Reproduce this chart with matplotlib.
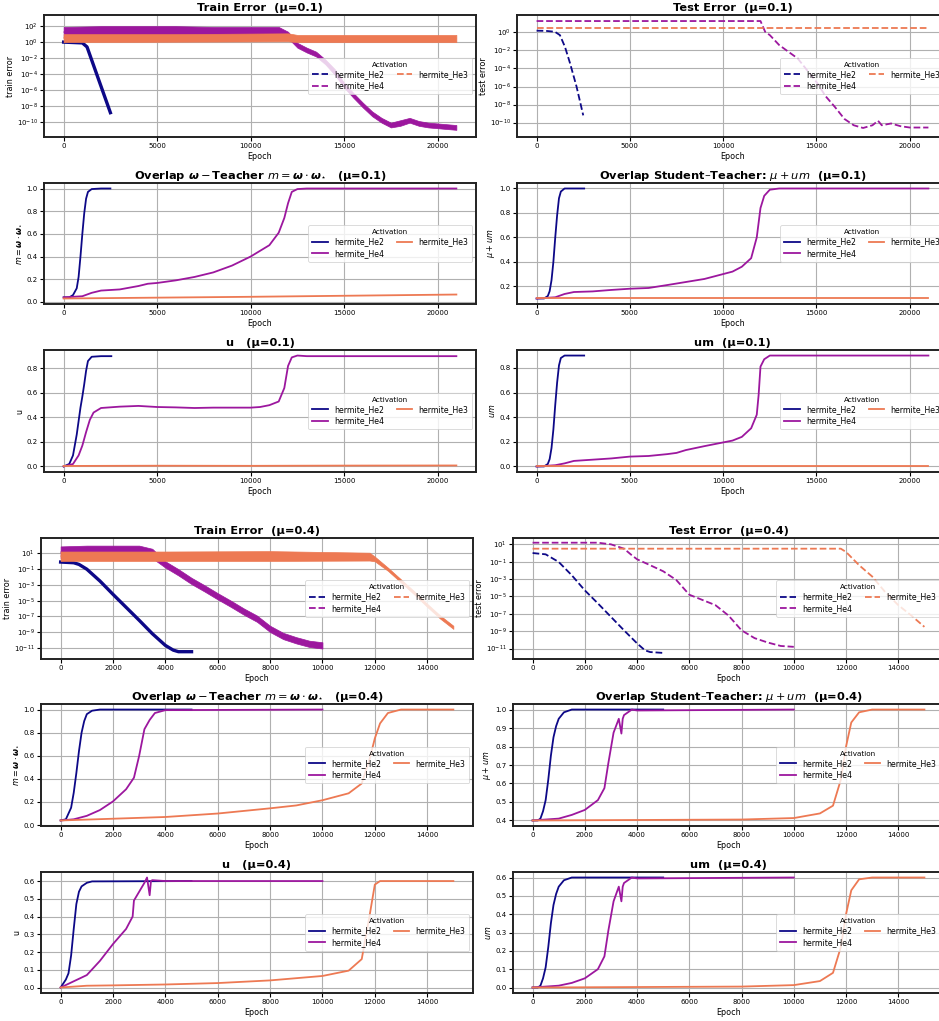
import numpy as np
import matplotlib
matplotlib.use("Agg")
import matplotlib.pyplot as plt
from matplotlib.ticker import NullLocator

# colours of the three activations (plasma-like)
C_HE2 = "#0d0887"
C_HE4 = "#9c179e"
C_HE3 = "#ed7953"

# ---------------- mu = 0.1 ----------------
# train error (log10 values)
tr01_he2_x = [0, 500, 1000, 1250, 1500, 2000, 2500]
tr01_he2_y = [0.0, -0.05, -0.1, -0.6, -2.25, -5.55, -8.85]
tr01_he4_x = [0, 2000, 4000, 6000, 8000, 10000, 11500, 12000, 12500, 13000, 13500, 14000, 14500,
              15000, 15500, 16000, 16500, 17000, 17500, 18000, 18500, 19000, 19500, 20000, 21000]
tr01_he4_hi = [1.9, 2.0, 2.0, 2.0, 1.9, 1.9, 1.9, 1.3, -0.1, -0.7, -1.2, -2.2, -3.4,
               -5.1, -6.4, -7.6, -8.7, -9.5, -10.1, -9.8, -9.5, -9.9, -10.1, -10.2, -10.4]
tr01_he4_lo = [0.6, 0.7, 0.7, 0.7, 0.6, 0.6, 0.6, 0.5, -0.7, -1.3, -1.8, -2.8, -4.1,
               -5.7, -7.0, -8.2, -9.3, -10.1, -10.7, -10.5, -10.1, -10.5, -10.7, -10.8, -11.0]
tr01_he3_x = [0, 6000, 12000, 12500, 21000]
tr01_he3_hi = [1.0, 1.0, 1.1, 0.9, 0.9]
tr01_he3_lo = [0.0, 0.05, 0.1, 0.0, 0.0]

# test error (log10 values)
te01_he2_x = [0, 500, 980, 1250, 1520, 1790, 2140, 2500]
te01_he2_y = [0.19, 0.17, 0.07, -0.3, -1.6, -3.4, -6.0, -9.2]
te01_he4_x = [0, 12000, 12250, 12500, 13000, 13500, 14000, 14500, 15000, 15500, 16000, 16500,
              17000, 17500, 18000, 18300, 18500, 19000, 19500, 20000, 21000]
te01_he4_y = [1.26, 1.26, 0.07, -0.3, -1.4, -2.15, -2.9, -4.2, -5.5, -7.1, -8.3, -9.6,
              -10.3, -10.6, -10.3, -9.8, -10.3, -10.1, -10.4, -10.55, -10.55]
te01_he3_x = [0, 21000]
te01_he3_y = [0.48, 0.48]

# overlap m
m01_he2_x = [0, 300, 500, 700, 800, 900, 1000, 1100, 1200, 1300, 1500, 2000, 2500]
m01_he2_y = [0.04, 0.04, 0.06, 0.12, 0.22, 0.40, 0.60, 0.78, 0.91, 0.97, 0.995, 1.0, 1.0]
m01_he4_x = [0, 1000, 1500, 2000, 3000, 4000, 4500, 5000, 6000, 7000, 8000, 9000, 10000, 10500,
             11000, 11500, 11800, 12000, 12200, 12500, 13000, 21000]
m01_he4_y = [0.04, 0.05, 0.08, 0.10, 0.11, 0.14, 0.16, 0.167, 0.19, 0.22, 0.26, 0.32, 0.40, 0.45,
             0.50, 0.61, 0.74, 0.87, 0.97, 0.995, 1.0, 1.0]
m01_he3_x = [0, 10000, 21000]
m01_he3_y = [0.03, 0.045, 0.065]

# overlap mu + um
o01_he2_x = [0, 400, 600, 700, 800, 900, 1000, 1100, 1200, 1300, 1500, 2000, 2550]
o01_he2_y = [0.1, 0.1, 0.12, 0.16, 0.25, 0.40, 0.60, 0.78, 0.92, 0.975, 1.0, 1.0, 1.0]
o01_he4_x = [0, 1000, 1500, 2000, 3000, 4000, 5000, 6000, 7000, 8000, 9000, 10000, 10500,
             11000, 11500, 11800, 12000, 12200, 12500, 13000, 21000]
o01_he4_y = [0.1, 0.11, 0.137, 0.153, 0.158, 0.17, 0.18, 0.186, 0.21, 0.235, 0.26, 0.30, 0.32,
             0.36, 0.43, 0.60, 0.84, 0.94, 0.99, 1.0, 1.0]
o01_he3_x = [0, 21000]
o01_he3_y = [0.1, 0.1]

# u
u01_he2_x = [0, 300, 500, 700, 900, 1000, 1100, 1200, 1300, 1500, 2000, 2550]
u01_he2_y = [0.0, 0.02, 0.09, 0.26, 0.48, 0.57, 0.67, 0.78, 0.86, 0.895, 0.9, 0.9]
u01_he4_x = [0, 500, 800, 1000, 1200, 1400, 1600, 2000, 3000, 4000, 5000, 6000, 7000, 8000,
             9000, 10000, 10500, 11000, 11500, 11800, 12000, 12200, 12500, 13000, 21000]
u01_he4_y = [0.0, 0.02, 0.09, 0.17, 0.28, 0.38, 0.44, 0.477, 0.488, 0.494, 0.485, 0.482, 0.477,
             0.48, 0.48, 0.48, 0.485, 0.50, 0.53, 0.64, 0.82, 0.89, 0.905, 0.9, 0.9]
u01_he3_x = [0, 5000, 10000, 15000, 21000]
u01_he3_y = [0.004, 0.006, 0.005, 0.007, 0.008]

# um
um01_he2_x = [0, 400, 600, 700, 800, 900, 1000, 1100, 1200, 1300, 1500, 2000, 2550]
um01_he2_y = [0.0, 0.0, 0.02, 0.06, 0.15, 0.30, 0.50, 0.68, 0.82, 0.88, 0.9, 0.9, 0.9]
um01_he4_x = [0, 1000, 1500, 2000, 3000, 4000, 5000, 6000, 7000, 7500, 8000, 9000, 10000, 10500,
              11000, 11500, 11800, 11900, 12000, 12200, 12500, 13000, 21000]
um01_he4_y = [0.0, 0.01, 0.025, 0.045, 0.055, 0.065, 0.08, 0.085, 0.10, 0.11, 0.133, 0.165, 0.195,
              0.21, 0.24, 0.31, 0.42, 0.58, 0.81, 0.87, 0.9, 0.9, 0.9]
um01_he3_x = [0, 21000]
um01_he3_y = [0.0, 0.0]

# ---------------- mu = 0.4 ----------------
tr04_he2_x = [0, 500, 700, 1000, 1500, 2000, 2500, 3000, 3500, 4000, 4300, 4500, 5000]
tr04_he2_y = [-0.09, -0.18, -0.39, -1.0, -2.5, -4.2, -5.85, -7.5, -9.2, -10.7, -11.3, -11.5, -11.5]
tr04_he4_x = [0, 1000, 2000, 3000, 3500, 4000, 4500, 5000, 5500, 6000, 6500, 7000, 7500,
              8000, 8500, 9000, 9500, 10000]
tr04_he4_hi = [1.9, 2.0, 2.0, 2.0, 1.6, 0.0, -1.0, -2.1, -3.05, -4.05, -5.0, -6.0, -6.9,
               -8.2, -9.1, -9.65, -10.1, -10.3]
tr04_he4_lo = [0.4, 0.5, 0.5, 0.5, 0.4, -0.8, -1.8, -2.9, -3.85, -4.85, -5.8, -6.8, -7.7,
               -9.0, -9.9, -10.45, -10.9, -11.1]
tr04_he3_x = [0, 4000, 8000, 11800, 12000, 12500, 13000, 13500, 14000, 14500, 15000]
tr04_he3_hi = [1.25, 1.25, 1.3, 1.1, 0.6, -0.8, -2.3, -3.8, -5.4, -6.9, -8.2]
tr04_he3_lo = [0.05, 0.05, 0.05, 0.1, 0.0, -1.2, -2.7, -4.2, -5.8, -7.3, -8.6]

te04_he2_x = [0, 500, 1000, 1500, 2000, 2500, 3000, 3500, 4000, 4300, 4500, 5000]
te04_he2_y = [0.0, -0.15, -1.03, -2.56, -4.3, -5.8, -7.35, -8.9, -10.4, -11.2, -11.4, -11.5]
te04_he4_x = [0, 2500, 3000, 3500, 3800, 4000, 4500, 5000, 5500, 6000, 6500, 7000, 7500,
              8000, 8500, 9000, 9500, 10000]
te04_he4_y = [1.19, 1.19, 1.0, 0.5, -0.26, -0.72, -1.4, -2.1, -3.1, -4.8, -5.4, -6.0, -7.2,
              -8.9, -9.8, -10.3, -10.7, -10.8]
te04_he3_x = [0, 11800, 12000, 12500, 13000, 13500, 14000, 14500, 15000]
te04_he3_y = [0.5, 0.5, 0.12, -1.4, -2.7, -4.5, -6.0, -7.2, -8.5]

m04_he2_x = [0, 200, 400, 500, 600, 700, 800, 900, 1000, 1200, 1500, 5000]
m04_he2_y = [0.04, 0.05, 0.15, 0.28, 0.45, 0.64, 0.80, 0.90, 0.96, 0.99, 1.0, 1.0]
m04_he4_x = [0, 500, 1000, 1500, 2000, 2500, 2800, 3000, 3200, 3400, 3600, 4000, 10000]
m04_he4_y = [0.04, 0.05, 0.08, 0.13, 0.205, 0.31, 0.41, 0.60, 0.83, 0.91, 0.97, 0.995, 1.0]
m04_he3_x = [0, 2000, 4000, 6000, 8000, 9000, 10000, 11000, 11500, 11800, 12000, 12200, 12500,
             13000, 15000]
m04_he3_y = [0.04, 0.055, 0.07, 0.10, 0.145, 0.17, 0.215, 0.275, 0.36, 0.57, 0.75, 0.88, 0.97,
             1.0, 1.0]

o04_he2_x = [0, 200, 300, 400, 500, 600, 700, 800, 900, 1000, 1200, 1500, 5000]
o04_he2_y = [0.4, 0.4, 0.41, 0.45, 0.51, 0.62, 0.75, 0.85, 0.91, 0.95, 0.985, 1.0, 1.0]
o04_he4_x = [0, 1000, 1500, 2000, 2500, 2750, 2900, 3100, 3300, 3400, 3450, 3500, 3800, 4000, 10000]
o04_he4_y = [0.4, 0.41, 0.43, 0.457, 0.51, 0.575, 0.71, 0.875, 0.95, 0.87, 0.95, 0.97, 1.0, 0.995, 1.0]
o04_he3_x = [0, 8000, 10000, 11000, 11500, 11800, 12000, 12200, 12500, 13000, 15000]
o04_he3_y = [0.4, 0.405, 0.413, 0.438, 0.48, 0.62, 0.80, 0.93, 0.985, 1.0, 1.0]

u04_he2_x = [0, 200, 300, 400, 500, 600, 700, 800, 1000, 1200, 5000]
u04_he2_y = [0.0, 0.045, 0.08, 0.18, 0.33, 0.47, 0.54, 0.57, 0.59, 0.598, 0.6]
u04_he4_x = [0, 500, 1000, 1500, 2000, 2500, 2750, 2800, 3000, 3200, 3300, 3400, 3450, 3500, 4000, 10000]
u04_he4_y = [0.0, 0.035, 0.07, 0.15, 0.245, 0.33, 0.40, 0.49, 0.54, 0.59, 0.62, 0.52, 0.60, 0.605, 0.6, 0.6]
u04_he3_x = [0, 1000, 2000, 4000, 6000, 8000, 10000, 11000, 11500, 11800, 12000, 12200, 15000]
u04_he3_y = [0.0, 0.01, 0.012, 0.017, 0.025, 0.04, 0.065, 0.095, 0.16, 0.405, 0.58, 0.6, 0.6]

um04_he2_x = [0, 200, 300, 400, 500, 600, 700, 800, 900, 1000, 1200, 1500, 5000]
um04_he2_y = [0.0, 0.0, 0.01, 0.05, 0.11, 0.22, 0.35, 0.45, 0.51, 0.55, 0.585, 0.6, 0.6]
um04_he4_x = [0, 1000, 1500, 2000, 2500, 2750, 2900, 3100, 3300, 3400, 3450, 3500, 3800, 4000, 10000]
um04_he4_y = [0.0, 0.01, 0.025, 0.05, 0.10, 0.17, 0.31, 0.47, 0.55, 0.47, 0.55, 0.57, 0.6, 0.595, 0.6]
um04_he3_x = [0, 8000, 10000, 11000, 11500, 11800, 12000, 12200, 12500, 13000, 15000]
um04_he3_y = [0.0, 0.005, 0.013, 0.035, 0.08, 0.22, 0.40, 0.53, 0.59, 0.6, 0.6]

LABELS = ["hermite_He2", "hermite_He4", "hermite_He3"]

W, H = 939, 1021
fig = plt.figure(figsize=(W / 100, H / 100), dpi=100)

# axes boxes in pixels: (left, right, top, bottom)
rows_px = [(15, 137), (183, 304), (350, 472), (538, 659), (704, 826), (872, 993)]
cols_px_top = [(44, 476), (517, 948)]
cols_px_bot = [(41, 473), (513, 944)]


def make_ax(row, col):
    top, bot = rows_px[row]
    l, r = (cols_px_top if row < 3 else cols_px_bot)[col]
    ax = fig.add_axes([l / W, 1 - bot / H, (r - l) / W, (bot - top) / H])
    ax.grid(True, color="#b0b0b0", lw=0.8)
    ax.set_axisbelow(True)
    for s in ax.spines.values():
        s.set_linewidth(1.4)
        s.set_color("#222222")
    ax.tick_params(labelsize=5.0, length=3, width=0.8, pad=1.5)
    ax.set_xlabel("Epoch", fontsize=5.8, labelpad=2)
    return ax


def finish(ax, title, ylabel):
    ax.set_title(title, fontsize=8.2, fontweight="bold", pad=3)
    ax.set_ylabel(ylabel, fontsize=5.8, labelpad=1.5)
    leg = ax.legend(title="Activation", ncol=2, loc="center right", fontsize=5.6,
                    title_fontsize=5.2, frameon=True, borderpad=0.5, labelspacing=0.3,
                    columnspacing=1.6, handletextpad=0.8)
    leg.get_frame().set_linewidth(0.6)


def err_panel(ax, lines, bands, yticks, ylim, noisy_he2=False):
    # lines: list of (x, logy, color, label); bands: dict label -> (x, lo, hi)
    for z, (x, ly, c, lab) in enumerate(lines):
        if lab in bands:
            bx, lo, hi = bands[lab]
            ax.plot(bx, 10 ** ((np.array(lo) + np.array(hi)) / 2), ls="--", color=c, lw=1.3,
                    label=lab, zorder=2 + z)
            ax.fill_between(bx, 10 ** np.array(lo), 10 ** np.array(hi), color=c, lw=0.5,
                            zorder=2 + z)
        else:
            ax.plot(x, 10 ** np.array(ly), ls="--", color=c, lw=1.3, label=lab, zorder=2 + z)
            if noisy_he2 and lab == "hermite_He2":
                # noisy training curve looks like a thick solid stroke
                ax.plot(x, 10 ** np.array(ly), ls="-", color=c, lw=2.4, zorder=2 + z)
    ax.set_yscale("log")
    ax.set_yticks([10.0 ** k for k in yticks])
    ax.yaxis.set_minor_locator(NullLocator())
    ax.set_ylim(10 ** ylim[0], 10 ** ylim[1])


def solid_panel(ax, series):
    for z, (x, y, c, lab) in enumerate(series):
        ax.plot(x, y, color=c, lw=1.3, label=lab, zorder=2 + z)


MU_T = {0.1: "(μ=0.1)", 0.4: "(μ=0.4)"}
M_TITLE = r"Overlap $\boldsymbol{\omega} - $Teacher $m = \boldsymbol{\omega}\cdot\boldsymbol{\omega}_{\star}$   "
M_YLAB = r"$m = \boldsymbol{\omega}\cdot\boldsymbol{\omega}_{\star}$"
O_TITLE = r"Overlap Student–Teacher: $\mu + um$  "

# ---- mu = 0.1 ----
ax = make_ax(0, 0)
err_panel(ax, [(tr01_he2_x, tr01_he2_y, C_HE2, LABELS[0]), (tr01_he4_x, None, C_HE4, LABELS[1]),
               (tr01_he3_x, None, C_HE3, LABELS[2])],
          {LABELS[1]: (tr01_he4_x, tr01_he4_lo, tr01_he4_hi), LABELS[2]: (tr01_he3_x, tr01_he3_lo, tr01_he3_hi)},
          range(2, -11, -2), (-11.9, 3.4), noisy_he2=True)
finish(ax, "Train Error  " + MU_T[0.1], "train error")

ax = make_ax(0, 1)
err_panel(ax, [(te01_he2_x, te01_he2_y, C_HE2, LABELS[0]), (te01_he4_x, te01_he4_y, C_HE4, LABELS[1]),
               (te01_he3_x, te01_he3_y, C_HE3, LABELS[2])], {}, range(0, -11, -2), (-11.6, 1.93))
finish(ax, "Test Error  " + MU_T[0.1], "test error")

ax = make_ax(1, 0)
solid_panel(ax, [(m01_he2_x, m01_he2_y, C_HE2, LABELS[0]), (m01_he4_x, m01_he4_y, C_HE4, LABELS[1]),
                 (m01_he3_x, m01_he3_y, C_HE3, LABELS[2])])
finish(ax, M_TITLE + MU_T[0.1], M_YLAB)

ax = make_ax(1, 1)
solid_panel(ax, [(o01_he2_x, o01_he2_y, C_HE2, LABELS[0]), (o01_he4_x, o01_he4_y, C_HE4, LABELS[1]),
                 (o01_he3_x, o01_he3_y, C_HE3, LABELS[2])])
finish(ax, O_TITLE + MU_T[0.1], r"$\mu + um$")

ax = make_ax(2, 0)
solid_panel(ax, [(u01_he2_x, u01_he2_y, C_HE2, LABELS[0]), (u01_he4_x, u01_he4_y, C_HE4, LABELS[1]),
                 (u01_he3_x, u01_he3_y, C_HE3, LABELS[2])])
finish(ax, "u   " + MU_T[0.1], "u")

ax = make_ax(2, 1)
solid_panel(ax, [(um01_he2_x, um01_he2_y, C_HE2, LABELS[0]), (um01_he4_x, um01_he4_y, C_HE4, LABELS[1]),
                 (um01_he3_x, um01_he3_y, C_HE3, LABELS[2])])
finish(ax, "um  " + MU_T[0.1], r"$um$")

# ---- mu = 0.4 ----
ax = make_ax(3, 0)
err_panel(ax, [(tr04_he2_x, tr04_he2_y, C_HE2, LABELS[0]), (tr04_he4_x, None, C_HE4, LABELS[1]),
               (tr04_he3_x, None, C_HE3, LABELS[2])],
          {LABELS[1]: (tr04_he4_x, tr04_he4_lo, tr04_he4_hi), LABELS[2]: (tr04_he3_x, tr04_he3_lo, tr04_he3_hi)},
          range(1, -12, -2), (-12.43, 2.97), noisy_he2=True)
finish(ax, "Train Error  " + MU_T[0.4], "train error")

ax = make_ax(3, 1)
err_panel(ax, [(te04_he2_x, te04_he2_y, C_HE2, LABELS[0]), (te04_he4_x, te04_he4_y, C_HE4, LABELS[1]),
               (te04_he3_x, te04_he3_y, C_HE3, LABELS[2])], {}, range(1, -12, -2), (-12.2, 1.73))
finish(ax, "Test Error  " + MU_T[0.4], "test error")

ax = make_ax(4, 0)
solid_panel(ax, [(m04_he2_x, m04_he2_y, C_HE2, LABELS[0]), (m04_he4_x, m04_he4_y, C_HE4, LABELS[1]),
                 (m04_he3_x, m04_he3_y, C_HE3, LABELS[2])])
finish(ax, M_TITLE + MU_T[0.4], M_YLAB)

ax = make_ax(4, 1)
solid_panel(ax, [(o04_he2_x, o04_he2_y, C_HE2, LABELS[0]), (o04_he4_x, o04_he4_y, C_HE4, LABELS[1]),
                 (o04_he3_x, o04_he3_y, C_HE3, LABELS[2])])
finish(ax, O_TITLE + MU_T[0.4], r"$\mu + um$")

ax = make_ax(5, 0)
solid_panel(ax, [(u04_he2_x, u04_he2_y, C_HE2, LABELS[0]), (u04_he4_x, u04_he4_y, C_HE4, LABELS[1]),
                 (u04_he3_x, u04_he3_y, C_HE3, LABELS[2])])
finish(ax, "u   " + MU_T[0.4], "u")

ax = make_ax(5, 1)
solid_panel(ax, [(um04_he2_x, um04_he2_y, C_HE2, LABELS[0]), (um04_he4_x, um04_he4_y, C_HE4, LABELS[1]),
                 (um04_he3_x, um04_he3_y, C_HE3, LABELS[2])])
finish(ax, "um  " + MU_T[0.4], r"$um$")

fig.savefig("out.png", dpi=100)
